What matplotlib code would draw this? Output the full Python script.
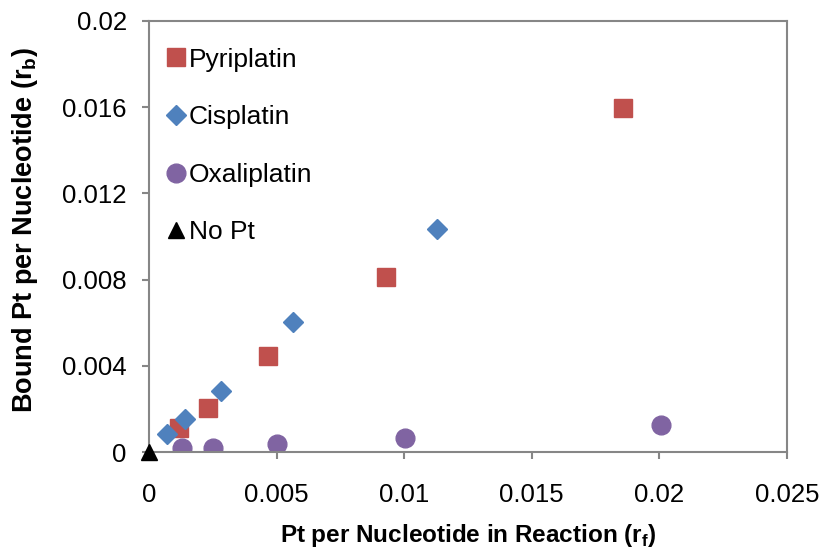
import matplotlib
matplotlib.use("Agg")
import matplotlib.pyplot as plt

plt.rcParams['font.family'] = ['Liberation Sans', 'DejaVu Sans']
plt.rcParams['mathtext.fontset'] = 'custom'
plt.rcParams['mathtext.rm'] = 'Liberation Sans'
plt.rcParams['mathtext.bf'] = 'Liberation Sans:bold'

pyri_x = [0.00118, 0.00231, 0.00466, 0.00929, 0.01857]
pyri_y = [0.00111, 0.00204, 0.00445, 0.00813, 0.01598]
cis_x = [0.00071, 0.00142, 0.00282, 0.00563, 0.01127]
cis_y = [0.00084, 0.00152, 0.00281, 0.00603, 0.01035]
oxa_x = [0.00128, 0.00252, 0.00503, 0.01003, 0.02005]
oxa_y = [0.00017, 0.00017, 0.00037, 0.00066, 0.00124]
nopt_x = [0.0]
nopt_y = [0.0]

x_ticks = [0, 0.005, 0.01, 0.015, 0.02, 0.025]
x_labels = ['0', '0.005', '0.01', '0.015', '0.02', '0.025']
y_ticks = [0, 0.004, 0.008, 0.012, 0.016, 0.02]
y_labels = ['0', '0.004', '0.008', '0.012', '0.016', '0.02']

W, H = 822, 553
fig = plt.figure(figsize=(W / 100, H / 100), dpi=100)
ax_l, ax_r, ax_t, ax_b = 149, 787, 21, 452
ax = fig.add_axes([ax_l / W, 1 - ax_b / H, (ax_r - ax_l) / W, (ax_b - ax_t) / H])

ax.plot(pyri_x, pyri_y, linestyle='none', marker='s', ms=13, color='#C0504D', mec='#C0504D', label='Pyriplatin')
ax.plot(cis_x, cis_y, linestyle='none', marker='D', ms=9.7, color='#4F81BD', mec='#4F81BD', label='Cisplatin')
ax.plot(oxa_x, oxa_y, linestyle='none', marker='o', ms=13.5, color='#8064A2', mec='#8064A2', label='Oxaliplatin')
ax.plot(nopt_x, nopt_y, linestyle='none', marker='^', ms=12, color='black', label='No Pt', clip_on=False, zorder=5)

ax.set_xlim(0, 0.025)
ax.set_ylim(0, 0.02)
ax.set_xticks(x_ticks)
ax.set_xticklabels(x_labels)
ax.set_yticks(y_ticks)
ax.set_yticklabels(y_labels)

for s in ax.spines.values():
    s.set_color('#868686')
    s.set_linewidth(1.5)
ax.tick_params(direction='out', length=5, width=1.5, color='#868686', labelsize=18.5)
ax.tick_params(axis='y', pad=11)
ax.tick_params(axis='x', pad=17)

ax.set_xlabel(r'Pt per Nucleotide in Reaction (r$_{\mathbf{f}}$)', fontsize=17.5, fontweight='bold')
ax.set_ylabel(r'Bound Pt per Nucleotide (r$_{\mathbf{b}}$)', fontsize=19.5, fontweight='bold')
ax.xaxis.set_label_coords(0.5, -(522 - ax_b) / (ax_b - ax_t))
ax.yaxis.set_label_coords(-(ax_l - 40) / (ax_r - ax_l), (ax_b - 230) / (ax_b - ax_t))

leg = ax.legend(loc='upper left', frameon=False, fontsize=19, handletextpad=0.19,
                labelspacing=1.27, borderaxespad=0, borderpad=0, handlelength=0.6,
                bbox_to_anchor=(0.0298, 0.938))

fig.savefig('out.png', dpi=100)
